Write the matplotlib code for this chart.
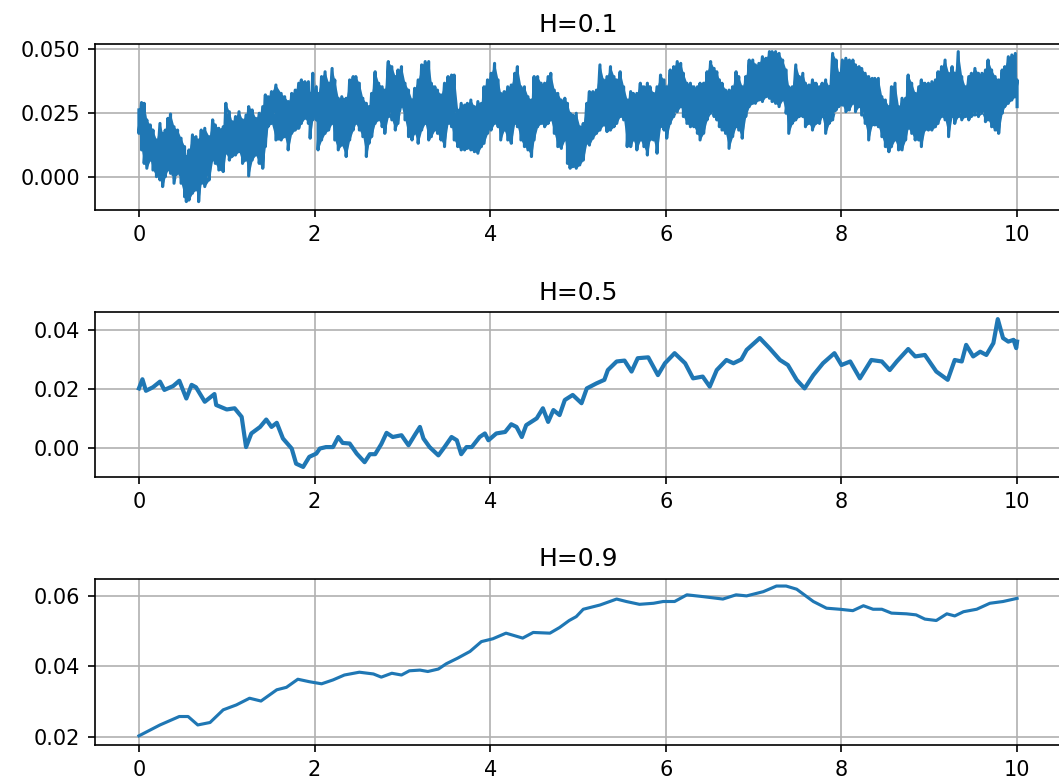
'''
Three sample paths of fractional Brownian motion, one per Hurst value.
'''

import matplotlib
matplotlib.use("Agg")
import matplotlib.pyplot as plt
import numpy as np

titles = ["H=0.1", "H=0.5", "H=0.9"]

# H=0.1: very rough path, read as the top and bottom of the band at each x
x1 = [0.00, 0.03, 0.06, 0.09, 0.13, 0.16, 0.20, 0.24, 0.27, 0.30, 0.33, 0.36, 0.40, 0.44, 0.48,
      0.52, 0.54, 0.57, 0.61, 0.65, 0.68, 0.71, 0.75, 0.80, 0.84, 0.87, 0.91, 0.96, 0.99, 1.03,
      1.06, 1.10, 1.14, 1.18, 1.22, 1.25, 1.29, 1.33, 1.37, 1.41, 1.44, 1.47, 1.51, 1.56,
      1.62, 1.66, 1.70, 1.74, 1.78, 1.82, 1.85, 1.89, 1.93, 1.95, 1.98, 2.02, 2.04, 2.08, 2.12,
      2.16, 2.20, 2.23, 2.27, 2.31, 2.36, 2.40, 2.44, 2.47, 2.51, 2.55, 2.59, 2.62, 2.65, 2.69,
      2.73, 2.77, 2.80, 2.84, 2.88, 2.92, 2.95, 2.99, 3.03, 3.07, 3.11, 3.14, 3.18, 3.22, 3.26,
      3.30, 3.33, 3.37, 3.40, 3.44, 3.48, 3.52, 3.56, 3.59, 3.63, 3.67, 3.71, 3.74, 3.78, 3.82,
      3.86, 3.90, 3.93, 3.97, 4.01, 4.05, 4.09, 4.12, 4.16, 4.20, 4.24, 4.28, 4.31, 4.35, 4.39,
      4.43, 4.47, 4.50, 4.54, 4.58, 4.62, 4.66, 4.69, 4.73, 4.77, 4.81, 4.85, 4.88,
      4.91, 4.94, 4.98, 5.02, 5.06, 5.10, 5.13, 5.17, 5.21, 5.25, 5.29, 5.33, 5.37, 5.41, 5.44,
      5.48, 5.52, 5.56, 5.60, 5.63, 5.67, 5.71, 5.75, 5.79, 5.82, 5.86, 5.90, 5.94, 5.98, 6.01,
      6.05, 6.09, 6.13, 6.17, 6.20, 6.24, 6.28, 6.32, 6.36, 6.39, 6.43, 6.47, 6.51, 6.55,
      6.58, 6.61, 6.64, 6.68, 6.72, 6.76, 6.80, 6.83, 6.87, 6.91, 6.95, 6.99, 7.02, 7.06, 7.10,
      7.14, 7.18, 7.21, 7.25, 7.29, 7.33, 7.37, 7.40, 7.44, 7.48, 7.52, 7.56, 7.59, 7.63, 7.67,
      7.71, 7.75, 7.78, 7.82, 7.86, 7.90, 7.94, 7.97, 8.01, 8.05, 8.09, 8.13, 8.16, 8.20,
      8.23, 8.27, 8.31, 8.35, 8.38, 8.42, 8.46, 8.50, 8.54, 8.57, 8.61, 8.65, 8.69, 8.73, 8.76,
      8.80, 8.84, 8.88, 8.91, 8.95, 8.99, 9.03, 9.07, 9.10, 9.14, 9.18, 9.22, 9.26, 9.29, 9.33,
      9.37, 9.41, 9.45, 9.48, 9.52, 9.56, 9.60, 9.64, 9.67, 9.71, 9.75, 9.79, 9.83, 9.86, 9.90,
      9.94, 9.98, 10.00]
hi1 = [0.0262, 0.0291, 0.0288, 0.0223, 0.0203, 0.0183, 0.0144, 0.0209, 0.0170, 0.0183,
       0.0229, 0.0246, 0.0196, 0.0183, 0.0151, 0.0118, 0.0079, 0.0105, 0.0164, 0.0157,
       0.0144, 0.0183, 0.0190, 0.0157, 0.0223, 0.0203, 0.0190, 0.0196, 0.0288, 0.0255,
       0.0216, 0.0236, 0.0255, 0.0223, 0.0242, 0.0275, 0.0262, 0.0229, 0.0249, 0.0275,
       0.0321, 0.0314, 0.0334, 0.0360,
       0.0327, 0.0314, 0.0295, 0.0327, 0.0340, 0.0367, 0.0380, 0.0373, 0.0373, 0.0327,
       0.0406, 0.0353, 0.0327, 0.0393, 0.0412, 0.0367, 0.0425, 0.0380, 0.0308, 0.0314,
       0.0308, 0.0380, 0.0393, 0.0393, 0.0367, 0.0308, 0.0288, 0.0275, 0.0327, 0.0412,
       0.0367, 0.0353, 0.0340, 0.0452, 0.0432, 0.0393, 0.0419, 0.0432, 0.0367, 0.0340,
       0.0301, 0.0347, 0.0380, 0.0439, 0.0452,
       0.0452, 0.0367, 0.0353, 0.0340, 0.0321, 0.0367, 0.0393, 0.0399, 0.0399, 0.0262,
       0.0288, 0.0281, 0.0288, 0.0301, 0.0275, 0.0295, 0.0288, 0.0353, 0.0380, 0.0406,
       0.0445, 0.0380, 0.0327, 0.0334, 0.0353, 0.0360, 0.0406, 0.0432, 0.0353, 0.0353,
       0.0314, 0.0301, 0.0393, 0.0393, 0.0367, 0.0367, 0.0393, 0.0406, 0.0340, 0.0327,
       0.0301, 0.0308, 0.0288,
       0.0249, 0.0242, 0.0249, 0.0196, 0.0209, 0.0288, 0.0334, 0.0334, 0.0340, 0.0439,
       0.0380, 0.0393, 0.0432, 0.0393, 0.0380, 0.0412, 0.0353, 0.0301, 0.0334, 0.0327,
       0.0327, 0.0367, 0.0353, 0.0367, 0.0353, 0.0327, 0.0353, 0.0399, 0.0380, 0.0353,
       0.0419, 0.0432, 0.0452, 0.0445, 0.0406, 0.0367, 0.0367, 0.0353, 0.0353, 0.0367,
       0.0367, 0.0412, 0.0452, 0.0425,
       0.0412, 0.0380, 0.0367, 0.0340, 0.0340, 0.0353, 0.0412, 0.0393, 0.0353, 0.0393,
       0.0458, 0.0458, 0.0439, 0.0445, 0.0471, 0.0465, 0.0491, 0.0491, 0.0491, 0.0484,
       0.0458, 0.0419, 0.0353, 0.0353, 0.0439, 0.0393, 0.0406, 0.0367, 0.0360, 0.0380,
       0.0367, 0.0353, 0.0367, 0.0380, 0.0353, 0.0484, 0.0458, 0.0406, 0.0458, 0.0465,
       0.0458, 0.0458, 0.0439, 0.0432,
       0.0425, 0.0406, 0.0393, 0.0386, 0.0386, 0.0386, 0.0314, 0.0301, 0.0275, 0.0353,
       0.0367, 0.0275, 0.0308, 0.0308, 0.0399, 0.0367, 0.0327, 0.0353, 0.0380, 0.0367,
       0.0367, 0.0373, 0.0380, 0.0412, 0.0432, 0.0458, 0.0406, 0.0432, 0.0406, 0.0491,
       0.0393, 0.0353, 0.0393, 0.0406, 0.0425, 0.0406, 0.0406, 0.0419, 0.0458, 0.0419,
       0.0393, 0.0380, 0.0419, 0.0432, 0.0471, 0.0478, 0.0484, 0.0380]
lo1 = [0.0170, 0.0105, 0.0052, 0.0033, 0.0065, 0.0026, 0.0000, -0.0013, -0.0039, 0.0000,
       0.0026, 0.0013, -0.0026, 0.0013, -0.0026, -0.0079, -0.0098, -0.0092, -0.0065, -0.0052,
       -0.0098, -0.0026, -0.0039, -0.0013, 0.0065, 0.0052, 0.0026, 0.0020, 0.0092, 0.0065,
       0.0079, 0.0085, 0.0098, 0.0052, 0.0065, 0.0003, 0.0065, 0.0085, 0.0052, 0.0033,
       0.0118, 0.0196, 0.0209, 0.0144,
       0.0144, 0.0157, 0.0105, 0.0170, 0.0183, 0.0190, 0.0209, 0.0229, 0.0209, 0.0151,
       0.0223, 0.0223, 0.0105, 0.0144, 0.0170, 0.0183, 0.0209, 0.0144, 0.0105, 0.0124,
       0.0079, 0.0144, 0.0183, 0.0209, 0.0183, 0.0157, 0.0079, 0.0131, 0.0157, 0.0209,
       0.0223, 0.0196, 0.0170, 0.0236, 0.0223, 0.0183, 0.0209, 0.0275, 0.0223, 0.0157,
       0.0144, 0.0170, 0.0131, 0.0183, 0.0209,
       0.0144, 0.0157, 0.0183, 0.0170, 0.0144, 0.0118, 0.0209, 0.0196, 0.0144, 0.0118,
       0.0105, 0.0105, 0.0111, 0.0105, 0.0098, 0.0092, 0.0118, 0.0131, 0.0170, 0.0183,
       0.0209, 0.0196, 0.0144, 0.0183, 0.0144, 0.0131, 0.0209, 0.0196, 0.0144, 0.0118,
       0.0105, 0.0079, 0.0144, 0.0196, 0.0209, 0.0196, 0.0209, 0.0223, 0.0170, 0.0118,
       0.0111, 0.0144, 0.0052,
       0.0033, 0.0039, 0.0033, 0.0046, 0.0065, 0.0131, 0.0124, 0.0151, 0.0170, 0.0183,
       0.0203, 0.0177, 0.0183, 0.0196, 0.0209, 0.0236, 0.0223, 0.0118, 0.0118, 0.0144,
       0.0105, 0.0144, 0.0118, 0.0085, 0.0144, 0.0144, 0.0092, 0.0196, 0.0183, 0.0151,
       0.0209, 0.0236, 0.0255, 0.0275, 0.0236, 0.0209, 0.0196, 0.0196, 0.0170, 0.0144,
       0.0170, 0.0223, 0.0249, 0.0236,
       0.0223, 0.0196, 0.0183, 0.0170, 0.0111, 0.0157, 0.0196, 0.0183, 0.0151, 0.0236,
       0.0275, 0.0288, 0.0288, 0.0301, 0.0295, 0.0314, 0.0308, 0.0295, 0.0288, 0.0275,
       0.0301, 0.0249, 0.0170, 0.0209, 0.0223, 0.0236, 0.0236, 0.0196, 0.0209, 0.0183,
       0.0209, 0.0209, 0.0236, 0.0170, 0.0209, 0.0223, 0.0262, 0.0275, 0.0281, 0.0255,
       0.0262, 0.0288, 0.0255, 0.0275,
       0.0242, 0.0209, 0.0144, 0.0203, 0.0203, 0.0196, 0.0157, 0.0118, 0.0098, 0.0118,
       0.0144, 0.0105, 0.0105, 0.0144, 0.0190, 0.0170, 0.0144, 0.0144, 0.0118, 0.0183,
       0.0183, 0.0183, 0.0196, 0.0209, 0.0236, 0.0223, 0.0157, 0.0236, 0.0209, 0.0236,
       0.0223, 0.0236, 0.0223, 0.0236, 0.0242, 0.0236, 0.0249, 0.0216, 0.0223, 0.0196,
       0.0183, 0.0170, 0.0249, 0.0275, 0.0288, 0.0301, 0.0314, 0.0275]

# H=0.5
x2 = [0.00, 0.04, 0.08, 0.16, 0.24, 0.29, 0.39, 0.46, 0.54, 0.60, 0.65, 0.75, 0.86, 0.88, 1.00,
      1.09, 1.17, 1.22, 1.28, 1.38, 1.45, 1.51, 1.57, 1.64, 1.74, 1.79, 1.87, 1.94, 2.02, 2.06,
      2.13, 2.21, 2.27, 2.32, 2.40, 2.48, 2.57, 2.63, 2.69, 2.76, 2.82, 2.89, 2.99, 3.07, 3.14,
      3.20, 3.24, 3.31, 3.41, 3.48, 3.56, 3.62, 3.67, 3.73, 3.79, 3.88, 3.94, 3.98, 4.07, 4.17,
      4.24, 4.30, 4.36, 4.41, 4.53, 4.60, 4.66, 4.72, 4.79, 4.85, 4.94, 5.04, 5.10, 5.21, 5.30,
      5.34, 5.44, 5.53, 5.61, 5.68, 5.80, 5.91, 5.99, 6.10, 6.22, 6.31, 6.42, 6.50, 6.58, 6.69,
      6.77, 6.86, 6.92, 7.07, 7.18, 7.30, 7.39, 7.49, 7.58, 7.68, 7.79, 7.92, 8.00, 8.10, 8.21,
      8.34, 8.46, 8.55, 8.63, 8.76, 8.84, 8.95, 9.08, 9.21, 9.29, 9.37, 9.42, 9.50, 9.58, 9.65,
      9.73, 9.78, 9.84, 9.90, 9.96, 9.99, 10.00]
y2 = [0.0202, 0.0233, 0.0194, 0.0206, 0.0225, 0.0197, 0.0210, 0.0228, 0.0168, 0.0214,
      0.0206, 0.0157, 0.0183, 0.0146, 0.0131, 0.0135, 0.0106, 0.0004, 0.0050, 0.0072,
      0.0097, 0.0072, 0.0086, 0.0033, -0.0001, -0.0052, -0.0063, -0.0029, -0.0018, -0.0001,
      0.0004, 0.0004, 0.0038, 0.0018, 0.0016, -0.0018, -0.0047, -0.0020, -0.0020, 0.0014,
      0.0052, 0.0038, 0.0044, 0.0010, 0.0044, 0.0072, 0.0033, 0.0004, -0.0024, 0.0004,
      0.0038, 0.0027, -0.0020, 0.0004, 0.0004, 0.0038, 0.0050, 0.0027, 0.0050, 0.0055,
      0.0081, 0.0072, 0.0038, 0.0078, 0.0101, 0.0135, 0.0089, 0.0129, 0.0112, 0.0163,
      0.0180, 0.0152, 0.0202, 0.0219, 0.0231, 0.0264, 0.0293, 0.0296, 0.0259, 0.0304,
      0.0307, 0.0247, 0.0287, 0.0321, 0.0287, 0.0236, 0.0242, 0.0208, 0.0264, 0.0298,
      0.0287, 0.0300, 0.0332, 0.0372, 0.0338, 0.0298, 0.0281, 0.0231, 0.0202, 0.0247,
      0.0287, 0.0321, 0.0281, 0.0293, 0.0236, 0.0298, 0.0293, 0.0264, 0.0293, 0.0335,
      0.0310, 0.0315, 0.0259, 0.0231, 0.0298, 0.0293, 0.0349, 0.0310, 0.0326, 0.0315,
      0.0355, 0.0436, 0.0372, 0.0360, 0.0366, 0.0338, 0.0360]

# H=0.9
x3 = [0.00, 0.24, 0.46, 0.56, 0.67, 0.81, 0.96, 1.11, 1.26, 1.39, 1.57, 1.68, 1.81, 1.94, 2.08,
      2.21, 2.34, 2.51, 2.67, 2.76, 2.88, 2.99, 3.08, 3.20, 3.29, 3.41, 3.50, 3.63, 3.77, 3.90,
      4.03, 4.18, 4.37, 4.49, 4.68, 4.79, 4.90, 4.98, 5.06, 5.25, 5.44, 5.55, 5.70, 5.86, 5.97,
      6.10, 6.24, 6.42, 6.65, 6.80, 6.92, 7.11, 7.26, 7.37, 7.49, 7.68, 7.83, 7.98, 8.13, 8.25,
      8.36, 8.46, 8.57, 8.74, 8.85, 8.95, 9.08, 9.20, 9.29, 9.39, 9.54, 9.69, 9.84, 10.00]
y3 = [0.0202, 0.0233, 0.0257, 0.0257, 0.0233, 0.0240, 0.0276, 0.0290, 0.0309, 0.0301,
      0.0333, 0.0340, 0.0363, 0.0356, 0.0350, 0.0361, 0.0375, 0.0383, 0.0378, 0.0369,
      0.0380, 0.0375, 0.0387, 0.0389, 0.0385, 0.0392, 0.0407, 0.0423, 0.0442, 0.0470,
      0.0478, 0.0494, 0.0480, 0.0496, 0.0494, 0.0510, 0.0530, 0.0541, 0.0562, 0.0574,
      0.0591, 0.0584, 0.0576, 0.0579, 0.0584, 0.0584, 0.0603, 0.0598, 0.0591, 0.0603,
      0.0600, 0.0612, 0.0628, 0.0628, 0.0619, 0.0584, 0.0565, 0.0562, 0.0558, 0.0572,
      0.0562, 0.0562, 0.0551, 0.0549, 0.0546, 0.0534, 0.0530, 0.0549, 0.0543, 0.0555,
      0.0562, 0.0579, 0.0584, 0.0593]

yticks = [[0.0, 0.025, 0.05], [0.0, 0.02, 0.04], [0.02, 0.04, 0.06]]
ylims = [(-0.0131, 0.0521), (-0.0097, 0.0460), (0.0176, 0.0648)]
widths = [1.5, 2.0, 1.5]
blue = "#1f77b4"

fig = plt.figure(figsize=(1059 / 150, 784 / 150), dpi=150)
W, H = 1059.0, 784.0
# axes boxes in pixels: (left, top, bottom)
boxes = [(95, 44, 210), (95, 312, 477), (95, 579, 745)]

# rough path: top then bottom of the band at every x
xs1 = np.repeat(x1, 2)
ys1 = np.column_stack([hi1, lo1]).ravel()
series = [(xs1, ys1), (x2, y2), (x3, y3)]

for i in range(3):
    left, top, bottom = boxes[i]
    ax = fig.add_axes([left / W, (H - bottom) / H, 966 / W, (bottom - top) / H])
    if i == 0:
        # the path fills its band almost solid
        ax.fill_between(x1, lo1, hi1, color=blue, linewidth=0)
    ax.plot(series[i][0], series[i][1], color=blue, linewidth=widths[i])
    ax.set_title(titles[i])
    ax.set_xlim(-0.5, 10.5)
    ax.set_ylim(ylims[i])
    ax.set_xticks([0, 2, 4, 6, 8, 10])
    ax.set_yticks(yticks[i])
    ax.grid(True)

plt.savefig("out.png", dpi=150)
